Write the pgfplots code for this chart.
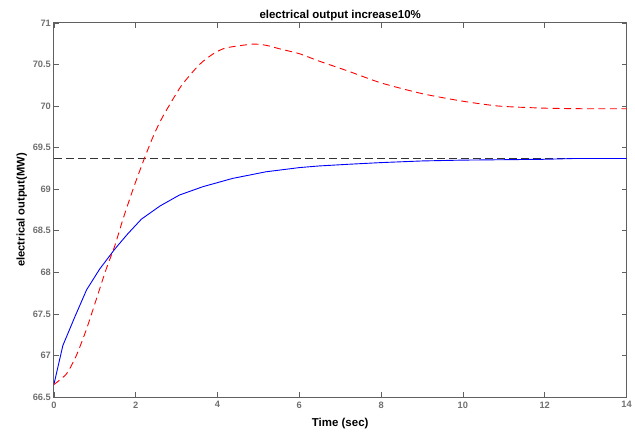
\documentclass[border=0pt]{standalone}
\usepackage{fontspec}
\setmainfont{Liberation Sans}
\usepackage{pgfplots}
\pgfplotsset{compat=1.18}
\definecolor{tickgray}{HTML}{707070}
\definecolor{boxgray}{HTML}{606060}

\begin{document}
\begin{tikzpicture}
  \begin{axis}[
    scale only axis,
    width=574pt, height=375pt,
    xmin=0, xmax=14, ymin=66.5, ymax=71,
    xtick={0,2,...,14},
    ytick={66.5,67,...,71},
    tick align=inside,
    major tick length=5pt,
    axis line style={boxgray, line width=0.9pt},
    every tick/.style={boxgray, line width=0.7pt},
    tick label style={font=\fontsize{9.3}{10}\selectfont\bfseries, text=tickgray},
    /pgf/number format/assume math mode=true,
    yticklabel style={/pgf/number format/fixed, /pgf/number format/precision=1, xshift=0.5pt},
    xticklabel style={yshift=-1pt},
    title={\fontsize{11.5}{13}\selectfont\bfseries electrical output increase10\%},
    title style={yshift=-7pt},
    xlabel={\fontsize{11.5}{13}\selectfont\bfseries Time (sec)},
    ylabel={\fontsize{11.2}{13}\selectfont\bfseries electrical output(MW)},
    xlabel style={yshift=-3pt},
    ylabel style={yshift=-1pt},
  ]
    % reference level
    \addplot[black!80, line width=0.6pt, dash pattern=on 8pt off 4pt]
      coordinates {(0,69.37) (14,69.37)};

    % solid blue response
    \addplot[blue, line width=0.9pt] coordinates {
      (0,66.65) (0.22,67.12) (0.5,67.45) (0.8,67.79) (1.12,68.04)
      (1.49,68.28) (1.8,68.46) (2.14,68.64) (2.6,68.80) (3.07,68.93)
      (3.64,69.03) (4.37,69.13) (5.19,69.21) (6.0,69.26) (6.49,69.28)
      (7.2,69.30) (7.99,69.32) (9.0,69.34) (9.98,69.35) (11.0,69.355)
      (12.0,69.36) (12.76,69.37) (14,69.37)};

    % dashed red response
    \addplot[red, line width=0.9pt, dash pattern=on 7pt off 4.5pt, smooth, tension=0.4] coordinates {
      (0,66.65) (0.31,66.78) (0.55,67.0) (0.8,67.32) (1.04,67.68)
      (1.28,68.04) (1.49,68.32) (1.69,68.64) (1.95,69.02) (2.22,69.38)
      (2.45,69.66) (2.67,69.88) (3.11,70.24) (3.56,70.5) (3.9,70.63)
      (4.21,70.70) (4.86,70.745) (5.2,70.73) (5.51,70.69) (6.0,70.63)
      (6.49,70.54) (7.2,70.42) (7.99,70.28) (9.0,70.15) (9.98,70.06)
      (10.88,70.0) (12.0,69.975) (13.0,69.968) (14,69.968)};
  \end{axis}
  \path (current axis.south west) ++(-54pt,-34pt) rectangle ++(635pt,432pt);
\end{tikzpicture}
\end{document}
